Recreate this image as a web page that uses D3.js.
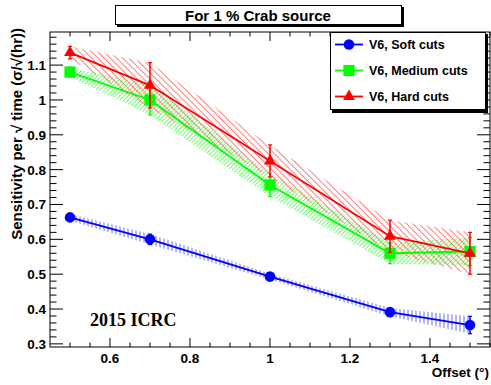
<!DOCTYPE html>
<html>
<head>
<meta charset="utf-8">
<script src="https://cdn.jsdelivr.net/npm/d3@7"></script>
<style>
  body { margin: 0; background: #fff; }
  svg { display: block; }
  text { font-family: "Liberation Sans", Arial, sans-serif; font-weight: bold; }
</style>
</head>
<body>
<div id="chart"></div>
<script>
// values
const offsets = [0.5, 0.7, 1.0, 1.3, 1.5];
const softVals = [0.663, 0.600, 0.493, 0.391, 0.354];
const softErr = [0.010, 0.015, 0.008, 0.012, 0.025];
const mediumVals = [1.080, 1.000, 0.756, 0.560, 0.565];
const mediumErr = [0.014, 0.043, 0.033, 0.030, 0.040];
const hardVals = [1.136, 1.042, 0.825, 0.609, 0.560];
const hardErr = [0.018, 0.065, 0.046, 0.046, 0.060];
const seriesNames = ["V6, Soft cuts", "V6, Medium cuts", "V6, Hard cuts"];
const xTicks = [0.6, 0.8, 1, 1.2, 1.4];
const yTicks = [0.3, 0.4, 0.5, 0.6, 0.7, 0.8, 0.9, 1, 1.1];

const W = 491, H = 385;
const margin = {top: 32, right: 1, bottom: 38, left: 50};
const width = W - margin.left - margin.right,
      height = H - margin.top - margin.bottom;

const svg = d3.select("#chart").append("svg")
  .attr("width", W).attr("height", H);

const defs = svg.append("defs");
function hatch(id, color, angle, gap) {
  const p = defs.append("pattern")
    .attr("id", id)
    .attr("patternUnits", "userSpaceOnUse")
    .attr("width", gap).attr("height", gap)
    .attr("patternTransform", `rotate(${angle})`);
  p.append("line")
    .attr("x1", gap / 2).attr("y1", 0).attr("x2", gap / 2).attr("y2", gap)
    .attr("stroke", color).attr("stroke-width", 1);
}
hatch("hSoft", "#6a6aff", 0, 4);
hatch("hMedium", "#6cff6c", 45, 3);
hatch("hHard", "#ff7a7a", -45, 4.4);

const g = svg.append("g").attr("transform", `translate(${margin.left},${margin.top})`);

const x = d3.scaleLinear().domain([0.45, 1.55]).range([0, width]);
const y = d3.scaleLinear().domain([0.291, 1.195]).range([height, 0]);

const series = [
  {name: seriesNames[0], vals: softVals, err: softErr, color: "#0000ff", fill: "url(#hSoft)", marker: "circle"},
  {name: seriesNames[1], vals: mediumVals, err: mediumErr, color: "#00ff00", fill: "url(#hMedium)", marker: "square"},
  {name: seriesNames[2], vals: hardVals, err: hardErr, color: "#ff0000", fill: "url(#hHard)", marker: "triangle"}
];
series.forEach(s => {
  s.pts = offsets.map((o, i) => ({x: o, y: s.vals[i], e: s.err[i]}));
});

// error bands
const band = d3.area().x(d => x(d.x)).y0(d => y(d.y - d.e)).y1(d => y(d.y + d.e));
g.selectAll(".band").data(series).join("path")
  .attr("class", "band")
  .attr("d", s => band(s.pts))
  .attr("fill", s => s.fill);

const line = d3.line().x(d => x(d.x)).y(d => y(d.y));

function drawMarker(sel, type, color) {
  if (type === "circle") sel.append("circle").attr("r", 5.3).attr("fill", color);
  else if (type === "square") sel.append("rect").attr("x", -5.6).attr("y", -5.6).attr("width", 11.2).attr("height", 11.2).attr("fill", color);
  else sel.append("path").attr("d", d3.symbol(d3.symbolTriangle, 62)()).attr("fill", color);
}

series.forEach(s => {
  const sg = g.append("g");
  sg.append("path").attr("d", line(s.pts)).attr("fill", "none")
    .attr("stroke", s.color).attr("stroke-width", 1.8);
  const eb = sg.selectAll(".eb").data(s.pts).join("g").attr("class", "eb");
  eb.append("line")
    .attr("x1", d => x(d.x)).attr("x2", d => x(d.x))
    .attr("y1", d => y(d.y - d.e)).attr("y2", d => y(d.y + d.e))
    .attr("stroke", s.color).attr("stroke-width", 1.5);
  [-1, 1].forEach(k => {
    eb.append("line")
      .attr("x1", d => x(d.x) - 2).attr("x2", d => x(d.x) + 2)
      .attr("y1", d => y(d.y + k * d.e)).attr("y2", d => y(d.y + k * d.e))
      .attr("stroke", s.color).attr("stroke-width", 1.2);
  });
  sg.selectAll(".mk").data(s.pts).join("g").attr("class", "mk")
    .attr("transform", d => `translate(${x(d.x)},${y(d.y)})`)
    .each(function() { drawMarker(d3.select(this), s.marker, s.color); });
});

// frame and ticks
const axisColor = "#000";
g.append("rect").attr("width", width).attr("height", height)
  .attr("fill", "none").attr("stroke", axisColor).attr("stroke-width", 1);

const xMinor = d3.range(0.5, 1.551, 0.05).map(v => +v.toFixed(2));
const yMinor = d3.range(0.3, 1.191, 0.02).map(v => +v.toFixed(2));

// bottom / top ticks
[[height, -1], [0, 1]].forEach(([y0, dir]) => {
  g.append("g").selectAll("line").data(xMinor).join("line")
    .attr("x1", d => x(d)).attr("x2", d => x(d))
    .attr("y1", y0)
    .attr("y2", d => y0 + dir * (xTicks.some(t => Math.abs(t - d) < 1e-6) ? 9 : 4.5))
    .attr("stroke", axisColor);
});
// left / right ticks
[[0, 1], [width, -1]].forEach(([x0, dir]) => {
  g.append("g").selectAll("line").data(yMinor).join("line")
    .attr("y1", d => y(d)).attr("y2", d => y(d))
    .attr("x1", x0)
    .attr("x2", d => x0 + dir * (yTicks.some(t => Math.abs(t - d) < 1e-6) ? 13 : 6.5))
    .attr("stroke", axisColor);
});

g.selectAll(".xl").data(xTicks).join("text")
  .attr("x", d => x(d)).attr("y", height + 16)
  .attr("text-anchor", "middle").attr("font-size", 13.5)
  .text(d => d3.format("~g")(d));
g.selectAll(".yl").data(yTicks).join("text")
  .attr("x", -4).attr("y", d => y(d) + 5)
  .attr("text-anchor", "end").attr("font-size", 13.5)
  .text(d => d3.format("~g")(d));

// axis titles
svg.append("text").attr("x", 489).attr("y", 377)
  .attr("text-anchor", "end").attr("font-size", 13.5)
  .text("Offset (°)");
svg.append("text")
  .attr("transform", "translate(22,28) rotate(-90)")
  .attr("text-anchor", "end").attr("font-size", 15)
  .text("Sensitivity per √ time (σ/√(hr))");

// annotation
svg.append("text").attr("x", 90).attr("y", 326)
  .style("font-family", "'Liberation Serif', 'Times New Roman', serif")
  .attr("font-size", 18).text("2015 ICRC");

// title box
svg.append("rect").attr("x", 117).attr("y", 7).attr("width", 287).attr("height", 20).attr("fill", "#000");
svg.append("rect").attr("x", 115.5).attr("y", 5.5).attr("width", 286).attr("height", 19)
  .attr("fill", "#fff").attr("stroke", "#000");
svg.append("text").attr("x", 258).attr("y", 20.5)
  .attr("text-anchor", "middle").attr("font-size", 15)
  .text("For 1 % Crab source");

// legend
const lg = svg.append("g");
lg.append("rect").attr("x", 332).attr("y", 34).attr("width", 156).attr("height", 79).attr("fill", "#000");
lg.append("rect").attr("x", 330.5).attr("y", 32.5).attr("width", 155).attr("height", 77)
  .attr("fill", "#fff").attr("stroke", "#000");
series.forEach((s, i) => {
  const yy = 44.5 + i * 26;
  lg.append("line").attr("x1", 335).attr("x2", 363).attr("y1", yy).attr("y2", yy)
    .attr("stroke", s.color).attr("stroke-width", 1.8);
  drawMarker(lg.append("g").attr("transform", `translate(349,${yy})`), s.marker, s.color);
  lg.append("text").attr("x", 369).attr("y", yy + 4.5).attr("font-size", 12.5).text(s.name);
});
</script>
</body>
</html>
